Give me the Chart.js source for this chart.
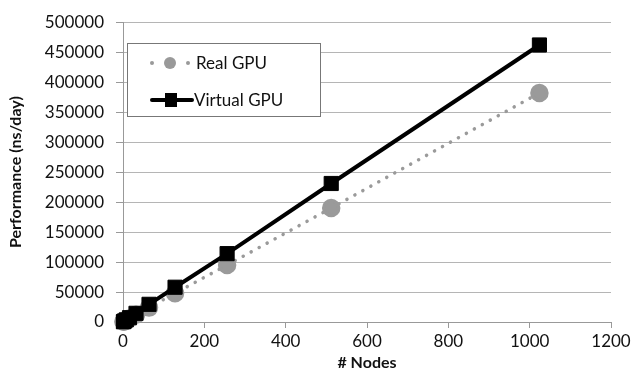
<!DOCTYPE html>
<html>
<head>
<meta charset="utf-8">
<script src="https://cdn.jsdelivr.net/npm/chart.js@4/dist/chart.umd.min.js"></script>
<style>
  html, body { margin: 0; padding: 0; background: #fff; }
  #wrap { width: 640px; height: 378px; }
</style>
</head>
<body>
<div id="wrap"><canvas id="myChart" width="640" height="378"></canvas></div>
<script>
const NODOS = [1, 2, 4, 8, 16, 32, 64, 128, 256, 512, 1024];
const REAL_GPU = [380, 750, 1500, 3000, 6000, 12000, 24000, 48000, 95000, 190000, 382000];
const VIRTUAL_GPU = [450, 900, 1800, 3600, 7200, 14500, 29500, 58000, 114000, 231000, 462000];
const ETIQUETAS = ["Real GPU", "Virtual GPU"];
const FUENTE = "Lato, 'Open Sans', sans-serif";

function puntos(ys) {
    return NODOS.map((n, i) => ({x: n, y: ys[i]}));
}

// leyenda dibujada a mano dentro del area del grafico
const leyendaCaja = {
    id: "leyendaCaja",
    afterDraw(chart) {
        const ctx = chart.ctx;
        const x0 = 127, y0 = 43, w = 193, h = 73;
        ctx.save();
        ctx.fillStyle = "#fff";
        ctx.fillRect(x0, y0, w, h);
        ctx.strokeStyle = "#777";
        ctx.lineWidth = 1;
        ctx.strokeRect(x0 + 0.5, y0 + 0.5, w, h);

        // Real GPU
        ctx.fillStyle = "#999";
        [152, 188].forEach(cx => {
            ctx.beginPath(); ctx.arc(cx, 63, 2, 0, Math.PI * 2); ctx.fill();
        });
        ctx.beginPath(); ctx.arc(170, 63, 6, 0, Math.PI * 2); ctx.fill();

        // Virtual GPU
        ctx.strokeStyle = "#000";
        ctx.lineWidth = 4;
        ctx.lineCap = "round";
        ctx.beginPath(); ctx.moveTo(152, 100); ctx.lineTo(192, 100); ctx.stroke();
        ctx.fillStyle = "#000";
        ctx.fillRect(165, 93, 12, 14);

        ctx.fillStyle = "#111";
        ctx.font = "17px " + FUENTE;
        ctx.textBaseline = "middle";
        ctx.fillText(ETIQUETAS[0], 196, 64);
        ctx.fillText(ETIQUETAS[1], 194, 101);
        ctx.restore();
    }
};

function main() {
    const ctx = document.getElementById("myChart").getContext("2d");
    new Chart(ctx, {
        type: "scatter",
        data: {
            datasets: [
                {
                    label: ETIQUETAS[0],
                    data: puntos(REAL_GPU),
                    showLine: true,
                    clip: false,
                    borderColor: "#9a9a9a",
                    borderWidth: 3.5,
                    borderDash: [0.1, 9],
                    borderCapStyle: "round",
                    backgroundColor: "#9a9a9a",
                    pointBackgroundColor: "#9a9a9a",
                    pointBorderColor: "#9a9a9a",
                    pointRadius: 7.5,
                    pointStyle: "circle",
                    order: 2
                },
                {
                    label: ETIQUETAS[1],
                    data: puntos(VIRTUAL_GPU),
                    showLine: true,
                    clip: false,
                    borderColor: "#000",
                    borderWidth: 4,
                    backgroundColor: "#000",
                    pointBackgroundColor: "#000",
                    pointBorderColor: "#000",
                    pointBorderWidth: 1,
                    pointRadius: 10,
                    pointStyle: "rect",
                    order: 1
                }
            ]
        },
        options: {
            responsive: false,
            animation: false,
            layout: {padding: {top: 6, right: 29, left: 6, bottom: 6}},
            plugins: {legend: {display: false}, tooltip: {enabled: false}},
            scales: {
                x: {
                    type: "linear",
                    min: 0, max: 1200,
                    afterFit: s => { s.height = 50; },
                    ticks: {stepSize: 200, color: "#111", font: {family: FUENTE, size: 17}, padding: 3, maxRotation: 0,
                        callback: v => String(v)},
                    grid: {drawOnChartArea: false, tickColor: "#999", tickLength: 6},
                    border: {color: "#999"},
                    title: {display: true, text: "# Nodes", color: "#111", font: {family: FUENTE, size: 16, weight: "bold"}, padding: {top: -3, bottom: 0}}
                },
                y: {
                    min: 0, max: 500000,
                    afterFit: s => { s.width = 117; },
                    ticks: {stepSize: 50000, color: "#111", font: {family: FUENTE, size: 17}, padding: 12,
                        callback: v => String(v)},
                    grid: {color: "#b5b5b5", tickColor: "#999", tickLength: 7},
                    border: {color: "#999"},
                    title: {display: true, text: "Performance (ns/day)", color: "#111", font: {family: FUENTE, size: 16, weight: "bold"}, padding: {top: 0, bottom: 2}}
                }
            }
        },
        plugins: [leyendaCaja]
    });
}

main();
</script>
</body>
</html>
